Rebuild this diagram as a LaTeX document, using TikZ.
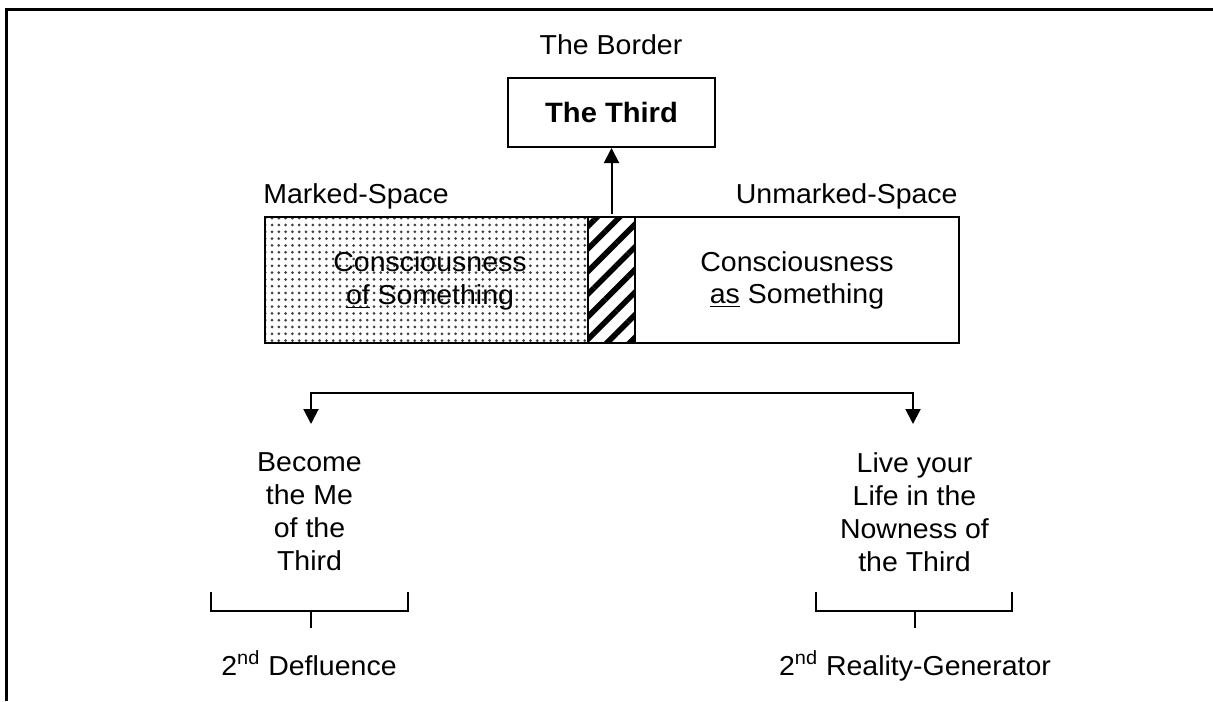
\documentclass[tikz,border=0pt]{standalone}
\usepackage{fontspec}
\setmainfont{Liberation Sans}[FakeStretch=1.04]
\usetikzlibrary{arrows.meta}
\usetikzlibrary{patterns.meta}

\begin{document}
\begin{tikzpicture}[x = 0.5pt, y = -0.5pt]
	\tikzstyle{textStyle} = [inner sep = 0pt, font = \fontsize{13.7}{16.6}\selectfont]
	\tikzstyle{boxStyle} = [draw, line width = 1pt, inner sep = 0pt, font = \fontsize{13.7}{16}\selectfont, align = center]
	\tikzstyle{arrowStyle} = [line width = 1pt, -{Triangle[length = 7.5pt, width = 7.5pt]}]
	\tikzstyle{bracketStyle} = [line width = 0.8pt]
	\useasboundingbox (0,0) rectangle (1213,701);
	% frame
	\draw[line width = 1.6pt] (6.5,701) -- (6.5,9.5) -- (1213,9.5);
	% top
	\node[textStyle, anchor = base] (border) at (611,55) {The Border};
	\node[boxStyle, minimum width = 103.5pt, minimum height = 34.5pt, font = \fontsize{14}{16}\selectfont\bfseries] (third) at (611.5,112.5) {The Third};
	% spaces
	\node[textStyle, anchor = base west] (markedLabel) at (263,203) {Marked-Space};
	\node[textStyle, anchor = base east] (unmarkedLabel) at (958,203) {Unmarked-Space};
	\node[boxStyle, minimum width = 161.5pt, minimum height = 63pt, pattern = {Dots[distance = 3.4pt, radius = 0.75pt]}, pattern color = black!75] (marked) at (426.5,280) {};
	\node[textStyle, align = center] (markedText) at (430,281) {Consciousness\\\underline{of} Something};
	\node[boxStyle, minimum width = 23.5pt, minimum height = 63pt, pattern = {Lines[angle = 45, distance = 8pt, line width = 2.8pt]}] (strip) at (611.5,280) {};
	\node[boxStyle, minimum width = 162pt, minimum height = 63pt] (unmarked) at (797,280) {Consciousness\\\underline{as} Something};
	\draw[arrowStyle] (strip) -- (third);
	% split
	\coordinate (lsplit) at (311,393);
	\coordinate (rsplit) at (913,393);
	\coordinate (ltip) at (311,424);
	\coordinate (rtip) at (913,424);
	\draw[arrowStyle, {Triangle[length = 7.5pt, width = 7.5pt]}-{Triangle[length = 7.5pt, width = 7.5pt]}] (ltip) -- (lsplit) -- (rsplit) -- (rtip);
	\node[textStyle, align = center, anchor = north] (become) at (309.5,452) {Become\\the Me\\of the\\Third};
	\node[textStyle, align = center, anchor = north] (live) at (914.5,452) {Live your\\Life in the\\Nowness of\\the Third};
	% brackets
	\draw[bracketStyle] (211,592) -- (211,611) -- (408,611) -- (408,592);
	\draw[bracketStyle] (311,611) -- (311,628);
	\draw[bracketStyle] (816,592) -- (816,611) -- (1012,611) -- (1012,592);
	\draw[bracketStyle] (915,611) -- (915,628);
	\node[textStyle, anchor = base] (defluence) at (309,675) {2\textsuperscript{nd} Defluence};
	\node[textStyle, anchor = base] (generator) at (915,675) {2\textsuperscript{nd} Reality-Generator};
\end{tikzpicture}
\end{document}
